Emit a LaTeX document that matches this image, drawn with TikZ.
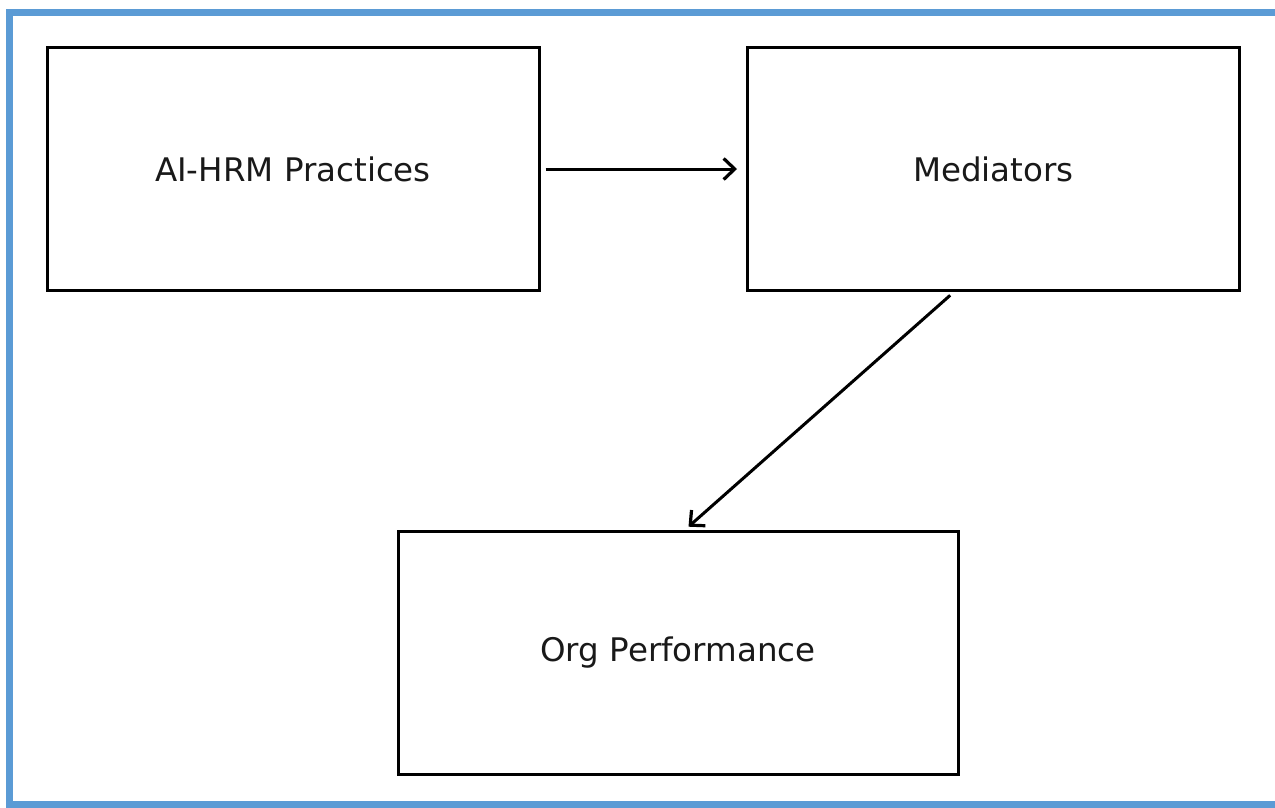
\documentclass[tikz,border=0pt]{standalone}
\usepackage{fontspec}
\setmainfont{DejaVu Sans}
\usetikzlibrary{arrows.meta,calc}
\definecolor{frameblue}{HTML}{5B9BD5}
\tikzset{
  blockbox/.style={draw=black, line width=3pt, minimum width=492pt, minimum height=243pt,
    inner sep=0pt, font=\fontsize{32.5}{38}\selectfont, text=black!90},
  flow/.style={line width=3pt, -{Straight Barb[length=11pt,width=21pt,line width=3.2pt]}}
}
\begin{document}
\begin{tikzpicture}[x=1pt,y=-1pt]
  \useasboundingbox (0,0) rectangle (1275,807);
  \fill[white] (0,0) rectangle (1275,807);
  % outer frame (open to the right)
  \draw[frameblue, line width=7.5pt] (1290,12.5) -- (9.5,12.5) -- (9.5,804.5) -- (1290,804.5);

  \node[blockbox] (ai) at (293,169) {AI-HRM Practices};
  \node[blockbox] (med) at (993.5,169) {Mediators};
  \node[blockbox, minimum width=560pt] (org) at (678,653) {Org Performance};

  \draw[flow, shorten <=5pt, shorten >=9pt] (ai.east) -- (med.west);
  \draw[flow, shorten <=5pt, shorten >=5pt]
    ($(med.south west)!0.42!(med.south east)$) -- ($(org.north west)!0.512!(org.north east)$);
\end{tikzpicture}
\end{document}
